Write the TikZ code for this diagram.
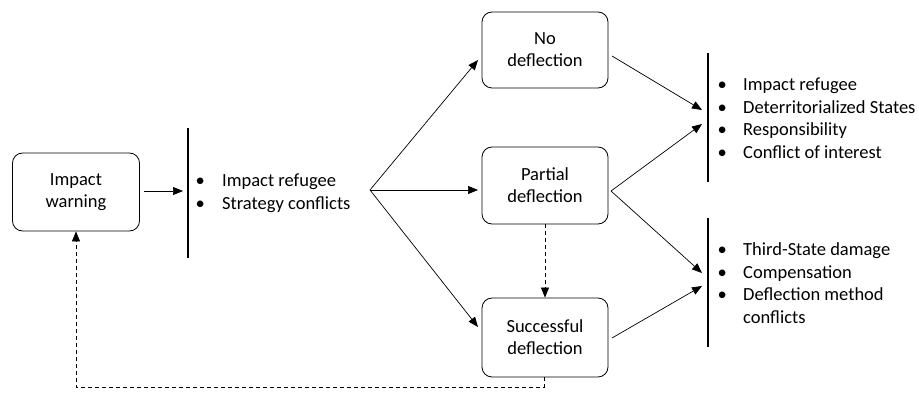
\documentclass[tikz,border=0pt]{standalone}
\usepackage{fontspec}
\setmainfont{Carlito}
\usetikzlibrary{arrows.meta}
\begin{document}
\begin{tikzpicture}[x=1pt,y=-1pt,
  box/.style={draw,rounded corners=10pt,line width=0.8pt,minimum width=126pt,align=center,font=\fontsize{18.5}{22}\selectfont},
  arr/.style={-{Triangle[length=10pt,width=8pt]},line width=0.7pt},
  darr/.style={arr,dashed,dash pattern=on 4pt off 3pt},
  bar/.style={line width=1.3pt},
  lst/.style={anchor=north west,inner sep=0pt,font=\fontsize{18.5}{22.5}\selectfont}]
\useasboundingbox (0,0) rectangle (919,401);
\node[box,minimum width=127pt,minimum height=78pt] (iw) at (76,192) {Impact\\warning};
\node[box,minimum height=76pt] (nd) at (545,50) {No\\deflection};
\node[box,minimum height=77pt] (pd) at (545,185.5) {Partial\\deflection};
\node[box,minimum height=79pt] (sd) at (545,337.5) {Successful\\deflection};
% bars
\coordinate (b1t) at (188,128); \coordinate (b1b) at (188,258);
\coordinate (b2t) at (708,53); \coordinate (b2b) at (708,182);
\coordinate (b3t) at (708,218); \coordinate (b3b) at (708,347);
\draw[bar] (b1t) -- (b1b);
\draw[bar] (b2t) -- (b2b);
\draw[bar] (b3t) -- (b3b);
% lists
\newcommand{\bl}{\makebox[0pt][c]{\textbullet}}
\node[lst] (l1) at (200,171) {\begin{tabular}{@{}l@{\hspace{22pt}}l@{}}\bl & Impact refugee\\ \bl & Strategy conflicts\end{tabular}};
\node[lst] (l2) at (722,75) {\begin{tabular}{@{}l@{\hspace{21pt}}l@{}}\bl & Impact refugee\\ \bl & Deterritorialized States\\ \bl & Responsibility\\ \bl & Conflict of interest\end{tabular}};
\node[lst] (l3) at (722,240) {\begin{tabular}{@{}l@{\hspace{21pt}}l@{}}\bl & Third-State damage\\ \bl & Compensation\\ \bl & Deflection method\\ & conflicts\end{tabular}};
% arrows
\coordinate (a1) at (183,191);
\draw[arr] (iw.east |- a1) ++(4,0) coordinate (s1) -- (a1);
\coordinate (fan) at (370,190);
\coordinate (e1) at (478,60);
\coordinate (e2) at (478,190);
\coordinate (e3) at (478,327);
\draw[arr] (fan) -- (e1);
\draw[arr] (fan) -- (e2);
\draw[arr] (fan) -- (e3);
\coordinate (f1) at (612,56);
\coordinate (f2) at (611,191);
\coordinate (f3) at (612,338);
\coordinate (g1) at (702,110);
\coordinate (g2) at (702,124);
\coordinate (g3) at (702,273);
\coordinate (g4) at (702,286);
\draw[arr] (f1) -- (g1);
\draw[arr] (f2) -- (g2);
\draw[arr] (f2) -- (g3);
\draw[arr] (f3) -- (g4);
% dashed
\draw[darr] (pd.south) -- (sd.north);
\coordinate (c1) at (544,387);
\coordinate (c2) at (76,387);
\draw[darr] (sd.south -| c1) -- (c1) -- (c2) -- (iw.south);
\end{tikzpicture}
\end{document}
